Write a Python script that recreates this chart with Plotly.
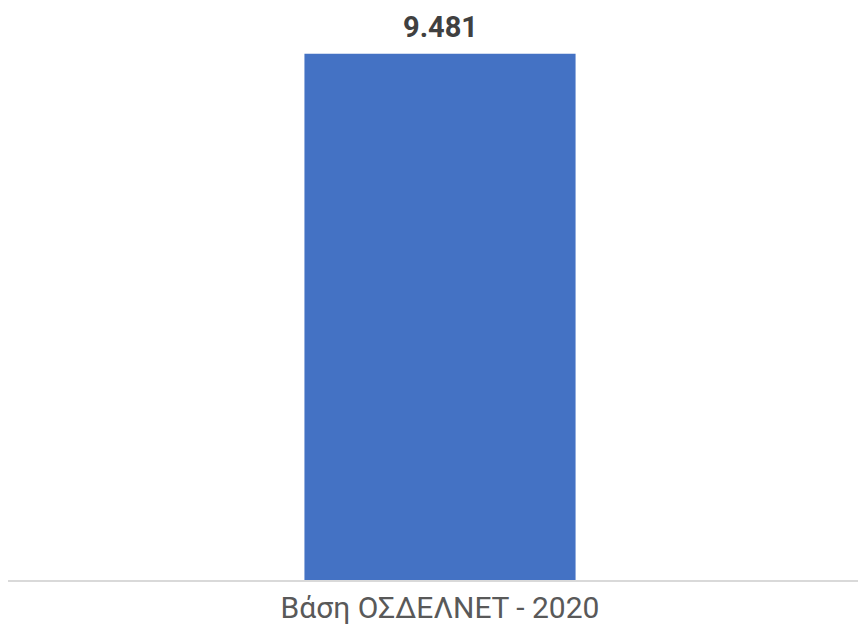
import plotly.graph_objects as go

categories = ["Βάση ΟΣΔΕΛΝΕΤ - 2020"]
values = [9481]
value_labels = ["9.481"]

fig = go.Figure()
fig.add_trace(go.Bar(
    x=categories, y=values,
    marker=dict(color="#4472C4", line=dict(width=0)),
    hoverinfo="skip",
))
for c, v, t in zip(categories, values, value_labels):
    fig.add_annotation(x=c, y=v, text="<b>" + t + "</b>", showarrow=False, yanchor="bottom",
                       yshift=9, borderpad=0,
                       font=dict(family="Roboto", size=29, color="#404040"))

fig.update_layout(
    width=858, height=624,
    margin=dict(l=0, r=0, t=17, b=52),
    paper_bgcolor="white", plot_bgcolor="white",
    bargap=0.684,
    showlegend=False,
    separators=",.",
    xaxis=dict(showline=True, linecolor="#d9d9d9", linewidth=1.5,
               range=[-0.5035, 0.4965],
               tickfont=dict(family="Roboto", size=30, color="#595959"),
               ticks="", showgrid=False, ticklabelstandoff=0),
    yaxis=dict(range=[0, 10000], visible=False, showgrid=False),
)
fig.write_html("out.html")
